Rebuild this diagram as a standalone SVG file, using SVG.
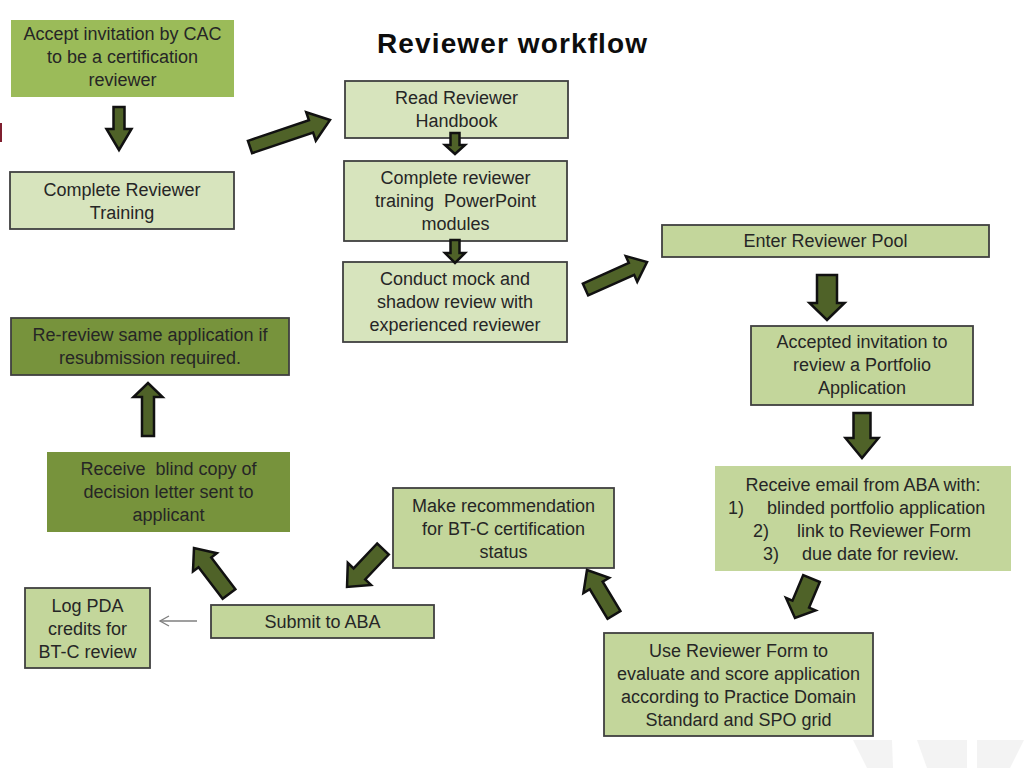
<svg xmlns="http://www.w3.org/2000/svg" width="1024" height="768" viewBox="0 0 1024 768">
<style>
text{font-family:"Liberation Sans",Arial,sans-serif;font-size:18px;fill:#262626;text-anchor:middle}
.title{font-size:28px;font-weight:bold;fill:#0d0d0d}
.lt{fill:#d7e4bd;stroke:#404040;stroke-width:1.8}
.md{fill:#c3d69b;stroke:#404040;stroke-width:1.8}
.mdn{fill:#c3d69b}
.br{fill:#9bbb59}
.dk{fill:#77933c}
.dks{fill:#77933c;stroke:#404040;stroke-width:1.8}
.ba{fill:#4f6228;stroke:#111;stroke-width:2.5;stroke-linejoin:miter}
.thin{stroke:#7f7f7f;stroke-width:1.3;fill:none}
.deco{fill:#f3f3f3}
</style>
<defs>
<marker id="open" markerWidth="12" markerHeight="12" refX="10" refY="6" orient="auto" markerUnits="userSpaceOnUse">
<path d="M1,1 L10,6 L1,11" fill="none" stroke="#7f7f7f" stroke-width="1.3"/>
</marker>
</defs>
<rect width="1024" height="768" fill="#ffffff"/>
<rect x="0" y="123" width="2" height="19" fill="#7f1f2f"/>
<g id="decoration">
<polygon class="deco" points="853,740 892,740 893,768 867,768"/>
<polygon class="deco" points="917,740 967,740 967,768 927,768"/>
<polygon class="deco" points="977,740 1024,740 1010,768 977,768"/>
</g>
<text class="title" x="512" y="53" textLength="270" lengthAdjust="spacing">Reviewer workflow</text>

<g id="n1"><rect class="br" x="11" y="20" width="223" height="77"/>
<text x="122.5" y="40">Accept invitation by CAC</text><text x="122.5" y="63">to be a certification</text><text x="122.5" y="86">reviewer</text></g>

<g id="n2"><rect class="lt" x="10" y="172" width="224" height="57"/>
<text x="122" y="196">Complete Reviewer</text><text x="122" y="219">Training</text></g>

<g id="n3"><rect class="lt" x="345" y="81" width="223" height="57"/>
<text x="456.5" y="104">Read Reviewer</text><text x="456.5" y="127">Handbook</text></g>

<g id="n4"><rect class="lt" x="344" y="161" width="223" height="80"/>
<text x="455.5" y="184">Complete reviewer</text><text x="455.5" y="207" xml:space="preserve">training  PowerPoint</text><text x="455.5" y="230">modules</text></g>

<g id="n5"><rect class="lt" x="343" y="262" width="224" height="80"/>
<text x="455" y="285">Conduct mock and</text><text x="455" y="308">shadow review with</text><text x="455" y="331">experienced reviewer</text></g>

<g id="n6"><rect class="md" x="662" y="225" width="327" height="32"/>
<text x="825.5" y="247">Enter Reviewer Pool</text></g>

<g id="n7"><rect class="md" x="751" y="326" width="222" height="79"/>
<text x="862" y="348">Accepted invitation to</text><text x="862" y="371">review a Portfolio</text><text x="862" y="394">Application</text></g>

<g id="n8"><rect class="mdn" x="715" y="466" width="296" height="105"/>
<text x="863" y="491">Receive email from ABA with:</text>
<text y="514" style="text-anchor:start"><tspan x="728">1)</tspan><tspan x="767">blinded portfolio application</tspan></text>
<text y="537" style="text-anchor:start"><tspan x="753">2)</tspan><tspan x="797">link to Reviewer Form</tspan></text>
<text y="560" style="text-anchor:start"><tspan x="763">3)</tspan><tspan x="802">due date for review.</tspan></text></g>

<g id="n9"><rect class="md" x="604" y="633" width="269" height="103"/>
<text x="738.5" y="657">Use Reviewer Form to</text><text x="738.5" y="680">evaluate and score application</text><text x="738.5" y="703">according to Practice Domain</text><text x="738.5" y="726">Standard and SPO grid</text></g>

<g id="n10"><rect class="md" x="393" y="488" width="221" height="80"/>
<text x="503.5" y="512">Make recommendation</text><text x="503.5" y="535">for BT-C certification</text><text x="503.5" y="558">status</text></g>

<g id="n11"><rect class="md" x="211" y="605" width="223" height="33"/>
<text x="322.5" y="628">Submit to ABA</text></g>

<g id="n12"><rect class="md" x="25" y="588" width="125" height="80"/>
<text x="87.5" y="612">Log PDA</text><text x="87.5" y="635">credits for</text><text x="87.5" y="658">BT-C review</text></g>

<g id="n13"><rect class="dk" x="47" y="452" width="243" height="80"/>
<text x="168.5" y="475" xml:space="preserve">Receive  blind copy of</text><text x="168.5" y="498">decision letter sent to</text><text x="168.5" y="521">applicant</text></g>

<g id="n14"><rect class="dks" x="11" y="318" width="278" height="57"/>
<text x="150" y="341">Re-review same application if</text><text x="150" y="364">resubmission required.</text></g>

<g id="connectors">
<path class="ba" transform="translate(119,107) rotate(90)" d="M0,-5.5 H22 V-12.5 L43,0 L22,12.5 V5.5 H0 Z"/>
<path class="ba" transform="translate(250,147) rotate(-18.65)" d="M0,-6.5 H64.4 V-15 L84.4,0 L64.4,15 V6.5 H0 Z"/>
<path class="ba" transform="translate(455,133) rotate(90)" d="M0,-4.5 H12 V-10 L21,0 L12,10 V4.5 H0 Z"/>
<path class="ba" transform="translate(455,240) rotate(90)" d="M0,-4.5 H13 V-10 L23,0 L13,10 V4.5 H0 Z"/>
<path class="ba" transform="translate(585.5,289.5) rotate(-24.1)" d="M0,-6.5 H50.4 V-14 L67.4,0 L50.4,14 V6.5 H0 Z"/>
<path class="ba" transform="translate(827,275) rotate(90)" d="M0,-10 H28 V-17.5 L45,0 L28,17.5 V10 H0 Z"/>
<path class="ba" transform="translate(862,413) rotate(90)" d="M0,-8.5 H25 V-16.5 L45,0 L25,16.5 V8.5 H0 Z"/>
<path class="ba" transform="translate(811.5,578.5) rotate(112.7)" d="M0,-9 H27.8 V-16 L42.8,0 L27.8,16 V9 H0 Z"/>
<path class="ba" transform="translate(614,615) rotate(-120.96)" d="M0,-7.5 H34.5 V-15 L52.5,0 L34.5,15 V7.5 H0 Z"/>
<path class="ba" transform="translate(383,549) rotate(133.45)" d="M0,-8 H34.3 V-16 L52.3,0 L34.3,16 V8 H0 Z"/>
<path class="ba" transform="translate(229,594) rotate(-127.27)" d="M0,-8 H39.8 V-15 L57.8,0 L39.8,15 V8 H0 Z"/>
<path class="ba" transform="translate(148,436) rotate(-90)" d="M0,-6 H39 V-14.5 L53,0 L39,14.5 V6 H0 Z"/>
<line class="thin" x1="197" y1="621" x2="160" y2="621" marker-end="url(#open)"/>
</g>
</svg>
